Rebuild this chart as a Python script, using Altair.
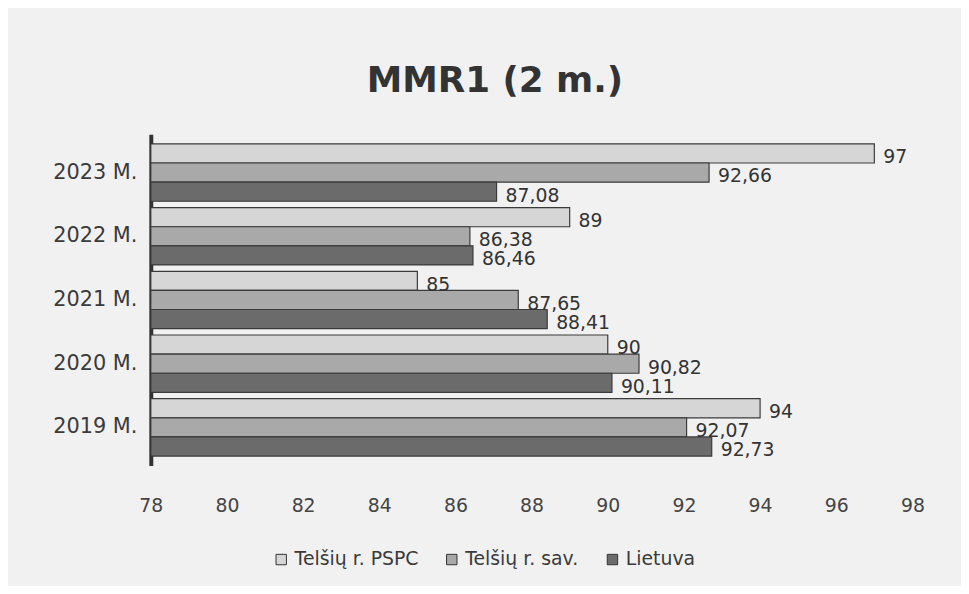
import altair as alt
import pandas as pd

years = ["2023 M.", "2022 M.", "2021 M.", "2020 M.", "2019 M."]
series = ["Telšių r. PSPC", "Telšių r. sav.", "Lietuva"]
pspc = [97, 89, 85, 90, 94]
sav = [92.66, 86.38, 87.65, 90.82, 92.07]
lt = [87.08, 86.46, 88.41, 90.11, 92.73]
colors = ["#d6d6d6", "#a9a9a9", "#6b6b6b"]

rows = []
for i, y in enumerate(years):
    for s, vals in zip(series, [pspc, sav, lt]):
        rows.append({"year": y, "series": s, "v": vals[i]})
df = pd.DataFrame(rows)

FONT = "DejaVu Sans"

base = alt.Chart(df).transform_calculate(
    lab="datum.v % 1 == 0 ? format(datum.v, 'd') : replace(format(datum.v, '.2f'), '.', ',')"
)

y = alt.Y("year:N", sort=years, title=None,
          scale=alt.Scale(paddingInner=0.1, paddingOuter=0.15),
          axis=alt.Axis(domainColor="#333333", domainWidth=4, ticks=False,
                        labelFontSize=21, labelColor="#3a3a3a", labelPadding=14,
                        labelFont=FONT))
yoff = alt.YOffset("series:N", sort=series, scale=alt.Scale(paddingInner=0, paddingOuter=0))
x = alt.X("v:Q", title=None,
          scale=alt.Scale(domain=[78, 98], clamp=True, nice=False, zero=False),
          axis=alt.Axis(values=list(range(78, 100, 2)), domain=False, ticks=False, grid=False,
                        labelFlush=False, labelFontSize=19, labelColor="#444444",
                        labelPadding=31, labelFont=FONT))

bars = base.mark_bar(stroke="#3a3a3a", strokeWidth=1.2, clip=True).encode(
    y=y, yOffset=yoff, x=x,
    color=alt.Color("series:N", sort=series,
                    scale=alt.Scale(domain=series, range=colors),
                    legend=alt.Legend(title=None, orient="none", direction="horizontal",
                                      legendX=122, legendY=419, symbolType="square",
                                      symbolSize=110, symbolStrokeColor="#333333",
                                      symbolStrokeWidth=1, labelFontSize=19,
                                      labelColor="#3a3a3a", labelFont=FONT,
                                      labelOffset=4, columnPadding=24)),
)

texts = base.mark_text(align="left", dx=9, dy=4, fontSize=19, color="#333333",
                       font=FONT).encode(
    y=y, yOffset=yoff, x="v:Q", text="lab:N"
)

chart = (bars + texts).properties(
    width=768, height=334,
    padding={"left": 144, "top": 125, "right": 49, "bottom": 119},
    autosize=alt.AutoSizeParams(type="none"),
    background="#f1f1f1",
    title=alt.TitleParams("MMR1 (2 m.)", fontSize=36, font=FONT, fontWeight="bold",
                          color="#333333", anchor="middle", dx=-37, offset=35),
).configure_view(stroke=None)

chart.save("out.html", embed_options={"renderer": "svg", "actions": False})
